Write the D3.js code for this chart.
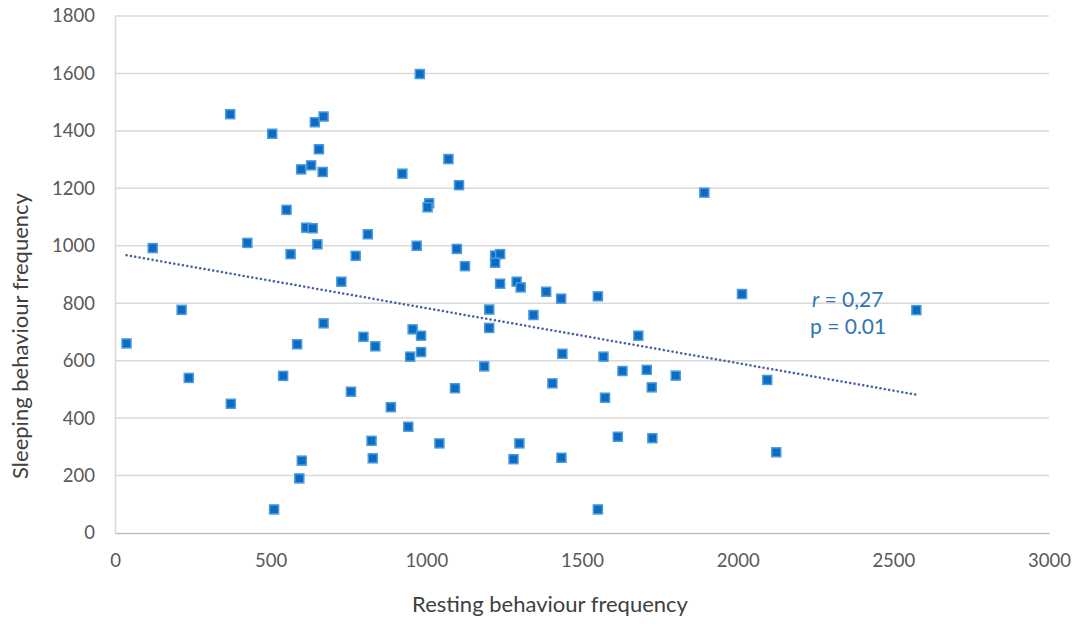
<!doctype html>
<html lang='en'>
<head>
    <meta charset='UTF-8'>
    <title>Sleeping vs resting behaviour</title>
    <style>
        body {
            margin: 0;
            background: #fff;
        }

        text {
            font-family: Lato, 'Open Sans', sans-serif;
        }

        .tick text {
            font-size: 18.5px;
            fill: #595959;
        }

        .axis-title {
            font-size: 22px;
            fill: #404040;
        }

        .note {
            font-size: 21px;
            fill: #2e75b6;
        }
    </style>
</head>
<body>

<script src='https://d3js.org/d3.v7.min.js'></script>
<script>
  // resting behaviour frequency (x)
  const resting = [
    370, 505, 642, 670, 655, 598, 630, 667, 551, 614,
    635, 650, 564, 425, 121, 727, 773, 214, 37, 237,
    372, 540, 585, 670, 758, 600, 592, 511, 798, 979,
    1071, 923, 1105, 1009, 1004, 812, 969, 1098, 1124, 1221,
    1237, 1221, 1237, 1290, 1303, 1385, 1433, 1551, 1893, 1202,
    1344, 1202, 836, 956, 983, 948, 983, 1186, 1092, 886,
    942, 824, 828, 1042, 1299, 1280, 1434, 1405, 1437, 1551,
    1569, 1630, 1574, 1615, 1681, 1708, 1724, 1801, 1726, 2014,
    2574, 2095, 2124
  ]

  // sleeping behaviour frequency (y)
  const sleeping = [
    1458, 1390, 1430, 1450, 1336, 1266, 1280, 1257, 1125, 1063,
    1061, 1005, 971, 1010, 992, 875, 965, 777, 660, 540,
    450, 547, 657, 730, 492, 252, 190, 82, 683, 1598,
    1302, 1251, 1211, 1148, 1134, 1040, 1000, 989, 929, 966,
    971, 941, 868, 875, 855, 840, 816, 824, 1185, 778,
    759, 714, 650, 709, 687, 614, 630, 580, 504, 438,
    370, 321, 260, 312, 312, 257, 262, 521, 624, 82,
    614, 564, 471, 335, 687, 568, 507, 548, 330, 832,
    776, 533, 281
  ]

  // linear trend line end points
  const trendX = [37, 2572]
  const trendY = [967, 482]

  const xTicks = [0, 500, 1000, 1500, 2000, 2500, 3000]
  const yTicks = [0, 200, 400, 600, 800, 1000, 1200, 1400, 1600, 1800]

  const width = 1078, height = 624
  const margin = {top: 16, right: 29, bottom: 91, left: 115}

  const points = resting.map((d, i) => ({x: d, y: sleeping[i]}))

  const xScale = d3.scaleLinear()
    .domain([0, 3000])
    .range([margin.left, width - margin.right])

  const yScale = d3.scaleLinear()
    .domain([0, 1800])
    .range([height - margin.bottom, margin.top])

  const svg = d3.select('body').append('svg')
    .attr('width', width)
    .attr('height', height)

  //// Grid ////
  svg.append('g')
    .selectAll('line')
    .data(yTicks.slice(1))
    .enter()
    .append('line')
    .attr('x1', xScale(0))
    .attr('x2', xScale(3000))
    .attr('y1', d => yScale(d))
    .attr('y2', d => yScale(d))
    .attr('stroke', '#d9d9d9')
    .attr('stroke-width', 1.5)

  //// Axes ////
  const xAxis = svg.append('g')
    .attr('transform', `translate(0,${yScale(0)})`)
    .call(d3.axisBottom(xScale)
      .tickValues(xTicks)
      .tickFormat(d3.format('d'))
      .tickSizeInner(0)
      .tickSizeOuter(0)
      .tickPadding(21))
  xAxis.select('.domain').attr('stroke', '#bfbfbf').attr('stroke-width', 1.5)

  const yAxis = svg.append('g')
    .attr('transform', `translate(${xScale(0)},0)`)
    .call(d3.axisLeft(yScale)
      .tickValues(yTicks)
      .tickFormat(d3.format('d'))
      .tickSizeInner(0)
      .tickSizeOuter(0)
      .tickPadding(20))
  yAxis.select('.domain').attr('stroke', '#d9d9d9').attr('stroke-width', 1.5)

  svg.selectAll('.tick text').attr('font-family', null)

  svg.append('text')
    .attr('class', 'axis-title')
    .attr('x', 550)
    .attr('y', 612)
    .attr('text-anchor', 'middle')
    .text('Resting behaviour frequency')

  svg.append('text')
    .attr('class', 'axis-title')
    .attr('transform', 'translate(28,336) rotate(-90)')
    .attr('text-anchor', 'middle')
    .text('Sleeping behaviour frequency')

  //// Trend line ////
  svg.append('line')
    .attr('x1', xScale(trendX[0]))
    .attr('y1', yScale(trendY[0]))
    .attr('x2', xScale(trendX[1]))
    .attr('y2', yScale(trendY[1]))
    .attr('stroke', '#4a5fa8')
    .attr('stroke-width', 2.5)
    .attr('stroke-linecap', 'round')
    .attr('stroke-dasharray', '0.1 4.3')

  //// Points ////
  const size = 9
  svg.append('g')
    .selectAll('rect')
    .data(points)
    .enter()
    .append('rect')
    .attr('x', d => xScale(d.x) - size / 2)
    .attr('y', d => yScale(d.y) - size / 2)
    .attr('width', size)
    .attr('height', size)
    .attr('fill', '#0a6cc2')
    .attr('stroke', '#4c9be0')
    .attr('stroke-width', 1.5)

  //// Annotation ////
  const note = svg.append('text')
    .attr('class', 'note')
    .attr('x', 812)
    .attr('y', 307)
  note.append('tspan').attr('font-style', 'italic').text('r')
  note.append('tspan').text(' = 0,27')

  svg.append('text')
    .attr('class', 'note')
    .attr('x', 810)
    .attr('y', 334)
    .text('p = 0.01')
</script>
</body>
</html>
